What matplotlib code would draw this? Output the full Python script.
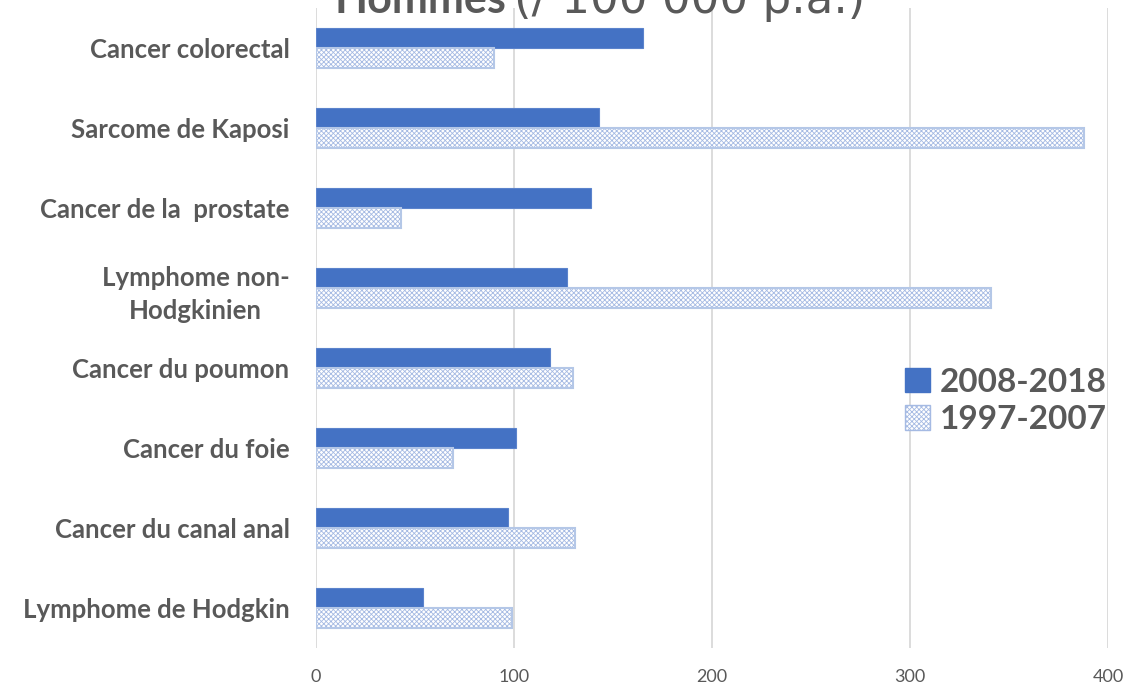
import numpy as np
import matplotlib.pyplot as plt
from matplotlib.patches import Patch

categories = ['Cancer colorectal', 'Sarcome de Kaposi', 'Cancer de la  prostate',
              'Lymphome non-\nHodgkinien', 'Cancer du poumon', 'Cancer du foie',
              'Cancer du canal anal', 'Lymphome de Hodgkin']
recent = [165, 143, 139, 127, 118, 101, 97, 54]     # 2008-2018
older = [90, 388, 43, 341, 130, 69, 131, 99]        # 1997-2007
xticks = [0, 100, 200, 300, 400]

grey = '#595959'
blue = '#4472C4'
plt.rcParams['font.family'] = ['Lato', 'DejaVu Sans']
plt.rcParams['hatch.linewidth'] = 0.6

fig = plt.figure(figsize=(11.3, 6.93), dpi=100)
ax = fig.add_axes([316 / 1130, 1 - 648 / 693, 792 / 1130, 640 / 693])

y = np.arange(len(categories))
h = 0.25
ax.barh(y - h / 2, recent, height=h, color=blue, edgecolor='#5B83CC', linewidth=0.8,
        label='2008-2018', zorder=3)
# hatched bars: hatch first, then a light border on top
ax.barh(y + h / 2, older, height=h, color='white', edgecolor='#A5BAE3', hatch='xxxxxxx',
        linewidth=0, zorder=3)
ax.barh(y + h / 2, older, height=h, fill=False, edgecolor='#B4C7E7', linewidth=1.5, zorder=4)

ax.set_xlim(0, 400)
ax.set_ylim(len(categories) - 0.5, -0.5)
ax.set_xticks(xticks)
ax.set_xticklabels([str(t) for t in xticks], fontsize=13, color=grey)
ax.set_yticks(y)
ax.set_yticklabels(categories, fontsize=18.5, fontweight='bold', color=grey,
                   multialignment='center', linespacing=1.45)
ax.tick_params(length=0)
ax.tick_params(axis='x', pad=15)
ax.tick_params(axis='y', pad=19)
ax.grid(axis='x', color='#D9D9D9', linewidth=1.3, zorder=0)
ax.set_axisbelow(True)
for s in ax.spines.values():
    s.set_visible(False)

# legend built from proxy patches
handles = [Patch(facecolor=blue, edgecolor=blue, label='2008-2018'),
           Patch(facecolor='white', edgecolor='#A5BAE3', hatch='xxxxxxx', label='1997-2007')]
leg = ax.legend(handles=handles, loc='center left', bbox_to_anchor=(0.744, 0.386),
                frameon=False, prop={'size': 24, 'weight': 'bold'}, borderpad=0,
                borderaxespad=0, handlelength=0.75, handleheight=0.75,
                handletextpad=0.3, labelspacing=0.25)
for t in leg.get_texts():
    t.set_color(grey)

# title, cut off at the top of the picture
fig.text(506 / 1130, 1 - 13 / 693, 'Hommes', fontsize=31, fontweight='bold', color=grey,
         ha='right', va='baseline')
fig.text(514 / 1130, 1 - 13 / 693, '(/ 100 000 p.a.)', fontsize=32.5, color=grey,
         ha='left', va='baseline', family=['DejaVu Sans'])

fig.savefig('out.png', dpi=100)
